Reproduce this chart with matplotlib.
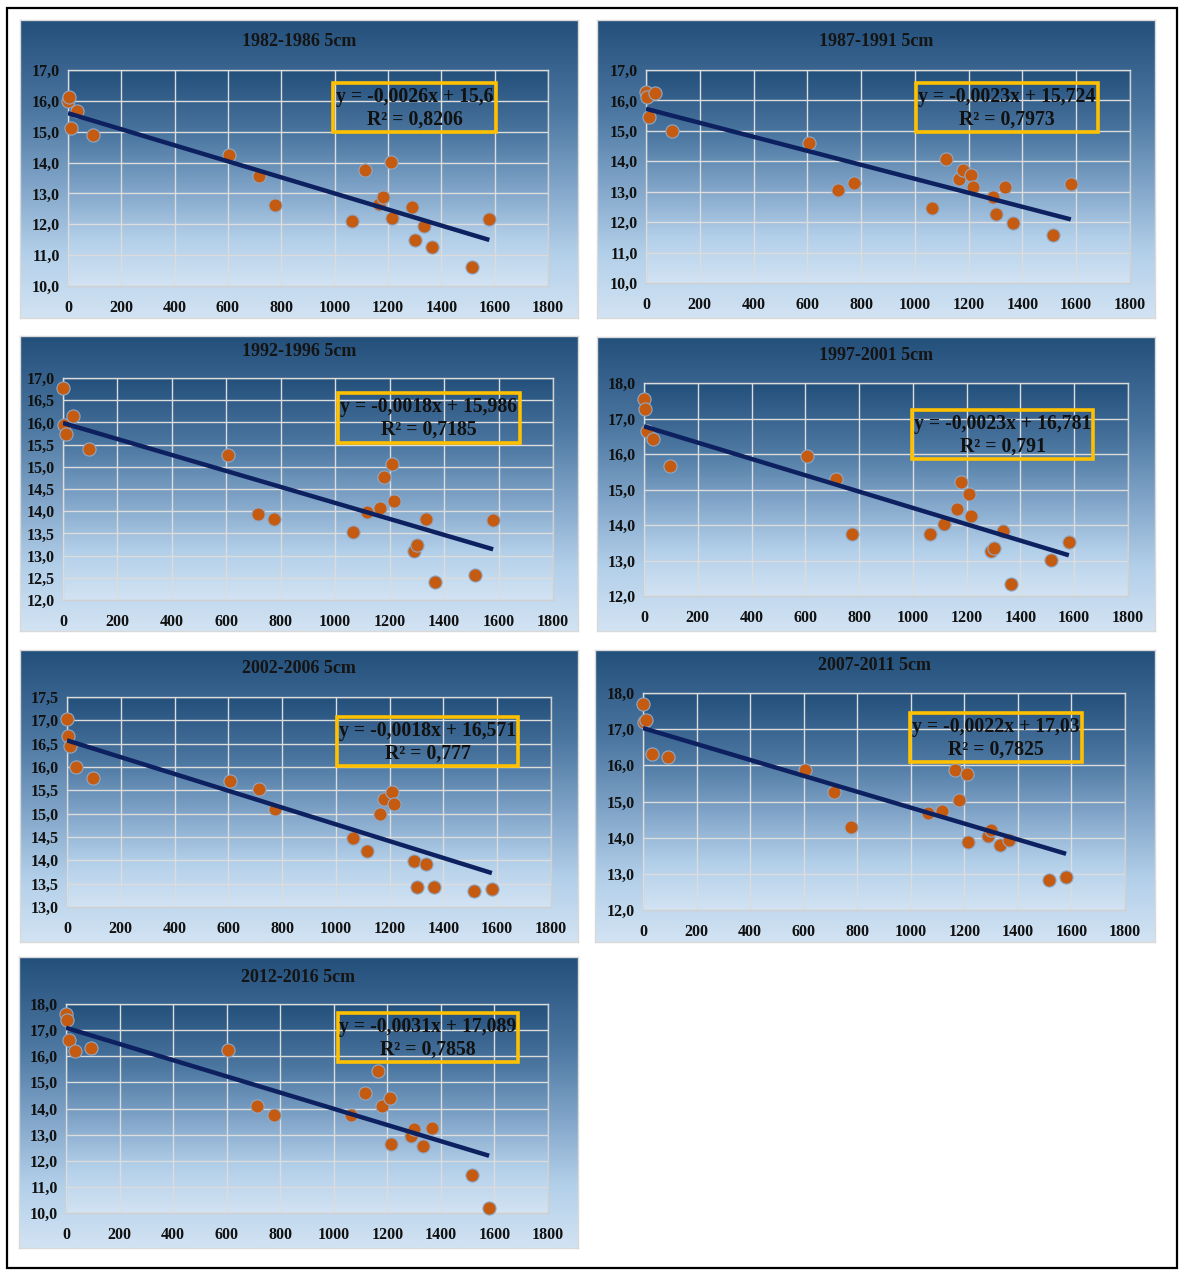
import matplotlib
matplotlib.use('Agg')
import matplotlib.pyplot as plt
from matplotlib.colors import LinearSegmentedColormap
from matplotlib.patches import Rectangle
import numpy as np

# station altitude (m), same stations in every period
altitude = [0, 5, 10, 35, 95, 605, 715, 775, 1065, 1115,
            1165, 1180, 1210, 1215, 1290, 1300, 1335, 1365, 1515, 1580]

titles = ["1982-1986 5cm", "1987-1991 5cm", "1992-1996 5cm", "1997-2001 5cm",
          "2002-2006 5cm", "2007-2011 5cm", "2012-2016 5cm"]

t_1982 = [16.00, 16.13, 15.12, 15.67, 14.90, 14.25, 13.56, 12.62, 12.10, 13.75,
          12.65, 12.90, 14.02, 12.20, 12.55, 11.50, 11.95, 11.28, 10.62, 12.17]
t_1987 = [16.27, 16.12, 15.47, 16.23, 15.00, 14.60, 13.04, 13.28, 12.47, 14.07,
          13.41, 13.70, 13.55, 13.15, 12.84, 12.27, 13.15, 11.96, 11.57, 13.25]
t_1992 = [16.77, 15.95, 15.73, 16.14, 15.40, 15.27, 13.94, 13.83, 13.54, 13.99,
          14.08, 14.78, 15.07, 14.22, 13.11, 13.23, 13.83, 12.41, 12.57, 13.80]
t_1997 = [17.55, 17.26, 16.64, 16.42, 15.65, 15.95, 15.30, 13.74, 13.74, 14.03,
          14.45, 15.20, 14.87, 14.26, 13.26, 13.34, 13.83, 12.34, 13.01, 13.53]
t_2002 = [17.03, 16.67, 16.46, 16.00, 15.76, 15.71, 15.53, 15.09, 14.47, 14.21,
          15.00, 15.32, 15.46, 15.21, 13.99, 13.43, 13.93, 13.42, 13.34, 13.38]
t_2007 = [17.70, 17.20, 17.25, 16.30, 16.23, 15.88, 15.26, 14.30, 14.68, 14.73,
          15.88, 15.03, 15.76, 13.87, 14.05, 14.22, 13.81, 13.94, 12.82, 12.90]
t_2012 = [17.62, 17.37, 16.63, 16.19, 16.31, 16.24, 14.10, 13.75, 13.75, 14.58,
          15.44, 14.10, 14.41, 12.65, 12.95, 13.21, 12.56, 13.27, 11.46, 10.21]
series = [t_1982, t_1987, t_1992, t_1997, t_2002, t_2007, t_2012]

# linear trend: slope, intercept, R²
slopes = [-0.0026, -0.0023, -0.0018, -0.0023, -0.0018, -0.0022, -0.0031]
intercepts = [15.6, 15.724, 15.986, 16.781, 16.571, 17.03, 17.089]
r2 = ["0,8206", "0,7973", "0,7185", "0,791", "0,777", "0,7825", "0,7858"]
slope_txt = ["-0,0026", "-0,0023", "-0,0018", "-0,0023", "-0,0018", "-0,0022", "-0,0031"]
icpt_txt = ["15,6", "15,724", "15,986", "16,781", "16,571", "17,03", "17,089"]

y_ranges = [(10, 17, 1), (10, 17, 1), (12, 17, 0.5), (12, 18, 1),
            (13, 17.5, 0.5), (12, 18, 1), (10, 18, 1)]

W, H = 1185, 1273

# pixel layout: panel box, plot box (left, top, right, bottom), title y, equation box
panels = [(20, 20, 578, 318), (597, 20, 1155, 318), (20, 336, 578, 631),
          (597, 337, 1155, 631), (20, 650, 578, 942), (595, 650, 1155, 942),
          (19, 957, 578, 1248)]
plots = [(68, 70, 548, 286), (646, 70, 1130, 283), (63, 378, 553, 600),
         (644, 383, 1128, 596), (67, 697, 551, 907), (643, 693, 1125, 910),
         (66, 1004, 548, 1213)]
title_y = [42, 42, 351, 356, 669, 666, 977]
eq_boxes = [(333, 83, 496, 132), (916, 83, 1098, 132), (338, 393, 520, 443),
            (912, 410, 1093, 459), (337, 717, 518, 766), (910, 713, 1082, 762),
            (338, 1013, 518, 1062)]

grad = LinearSegmentedColormap.from_list(
    'bluegrad', [(0.0, '#234f7b'), (0.3, '#4a76a0'), (0.55, '#80a4c8'),
                 (0.78, '#b2cfe9'), (1.0, '#d2e3f3')])
ramp = np.linspace(0, 1, 256).reshape(-1, 1)

plt.rcParams.update({'font.family': ['Liberation Serif', 'DejaVu Serif'],
                     'font.weight': 'bold'})

fig = plt.figure(figsize=(W / 100, H / 100), dpi=100)
fig.patch.set_facecolor('white')


def frac(box):
    l, t, r, b = box
    return [l / W, 1 - b / H, (r - l) / W, (b - t) / H]


# outer frame
fig.add_artist(Rectangle((7 / W, 1 - 1268 / H), 1170 / W, 1260 / H,
                         transform=fig.transFigure, fill=False,
                         edgecolor='black', linewidth=1.6))

for i in range(7):
    # panel background with its own gradient
    bg = fig.add_axes(frac(panels[i]), zorder=0)
    bg.imshow(ramp, cmap=grad, aspect='auto', extent=[0, 1, 0, 1])
    bg.set_xlim(0, 1); bg.set_ylim(0, 1)
    bg.set_xticks([]); bg.set_yticks([])
    for s in bg.spines.values():
        s.set_color('#d9d9d9'); s.set_linewidth(1)

    ax = fig.add_axes(frac(plots[i]), zorder=1)
    ax.patch.set_alpha(0)
    lo, hi, step = y_ranges[i]
    ax.set_xlim(0, 1800)
    ax.set_ylim(lo, hi)
    ax.imshow(ramp, cmap=grad, aspect='auto', extent=[0, 1800, lo, hi], zorder=0)
    ax.set_xticks(np.arange(0, 1801, 200))
    ax.set_yticks(np.arange(lo, hi + step / 2, step))
    ax.set_yticklabels([f"{v:.1f}".replace('.', ',') for v in ax.get_yticks()])
    ax.grid(True, color='#dcdcdc', linewidth=1.0, zorder=1)
    ax.set_axisbelow(False)
    for s in ax.spines.values():
        s.set_color('#d0d0d0'); s.set_linewidth(1)
    ax.tick_params(length=0, labelsize=11.5, colors='#111111')
    ax.tick_params(axis='x', pad=10)
    ax.tick_params(axis='y', pad=6)

    ax.scatter(altitude, series[i], s=90, color='#c55a11', edgecolor='#8fa9c8',
               linewidth=0.8, zorder=3, clip_on=False)
    xs = np.array([0, max(altitude)])
    ax.plot(xs, slopes[i] * xs + intercepts[i], color='#0d2160',
            linewidth=3.2, solid_capstyle='butt', zorder=4)

    cx = (panels[i][0] + panels[i][2]) / 2
    fig.text(cx / W, 1 - title_y[i] / H, titles[i], ha='center', va='center',
             fontsize=13, color='#141414', zorder=5)

    l, t, r, b = eq_boxes[i]
    fig.add_artist(Rectangle((l / W, 1 - b / H), (r - l) / W, (b - t) / H,
                             transform=fig.transFigure, fill=False,
                             edgecolor='#ffc000', linewidth=2.6, zorder=6))
    ex = (l + r) / 2 / W
    fig.text(ex, 1 - (t + 14) / H, f"y = {slope_txt[i]}x + {icpt_txt[i]}",
             ha='center', va='center', fontsize=14.2, color='#111111', zorder=7)
    fig.text(ex, 1 - (t + 37) / H, f"R² = {r2[i]}",
             ha='center', va='center', fontsize=14.2, color='#111111', zorder=7)

fig.savefig('out.png', dpi=100)
